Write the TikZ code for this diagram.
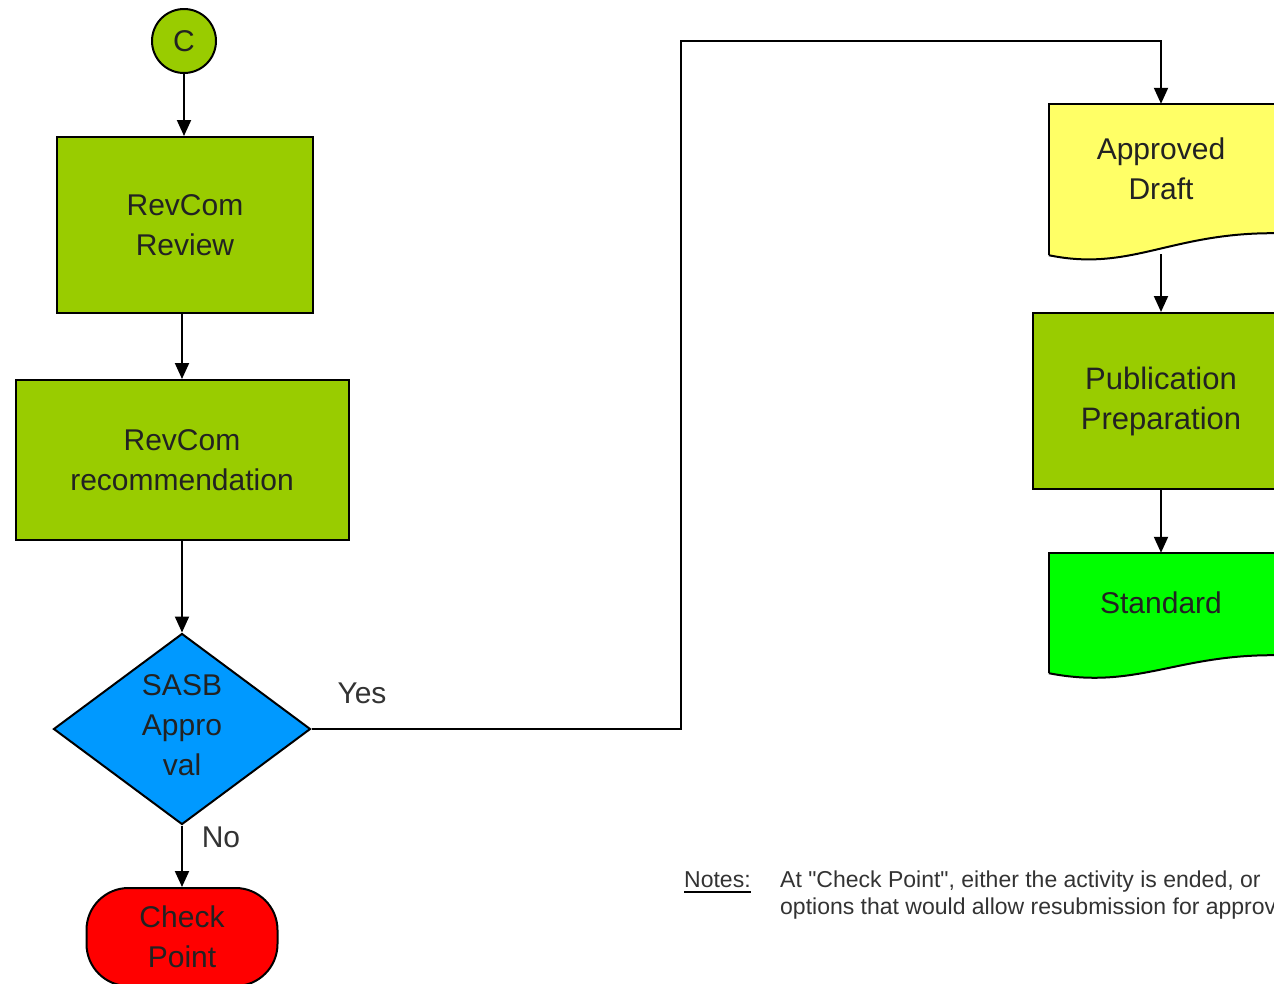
\documentclass[tikz,border=0pt]{standalone}
\usepackage{fontspec}
\setmainfont{Liberation Sans}[Ligatures=TeXOff]
\usetikzlibrary{arrows.meta,shapes.geometric}
\definecolor{procgreen}{HTML}{99CC00}
\definecolor{docyellow}{HTML}{FFFF66}
\definecolor{stdgreen}{HTML}{00FF00}
\definecolor{decblue}{HTML}{0099FF}
\definecolor{termred}{HTML}{FF0000}
\definecolor{txtdark}{HTML}{222222}
\definecolor{lblgray}{HTML}{333333}
\tikzset{
  boxtext/.style={font=\fontsize{30}{40}\selectfont, text=txtdark, align=center},
  procbox/.style={draw=black, line width=2pt, fill=procgreen, rectangle, inner sep=0pt, boxtext},
  docpath/.style={draw=black, line width=2pt},
  ghost/.style={draw=none, rectangle, inner sep=0pt},
  conn/.style={draw=black, line width=2pt, -{Triangle[width=14pt,length=16pt]}},
  lbl/.style={font=\fontsize{30}{40}\selectfont, text=lblgray, inner sep=0pt},
  notetext/.style={font=\fontsize{23}{27}\selectfont, text=lblgray, inner sep=0pt, align=left}
}
\begin{document}
\begin{tikzpicture}[x=1pt,y=-1pt]
\useasboundingbox (0,0) rectangle (1274,983);
\clip (0,0) rectangle (1274,983);
\fill[white] (0,0) rectangle (1274,983);

% connector C
\node[draw=black, line width=2pt, fill=procgreen, circle, minimum size=64pt, inner sep=0pt, boxtext] (c) at (184,41) {C};

% RevCom Review
\node[procbox, minimum width=256pt, minimum height=176pt] (rev) at (185,225) {RevCom\\Review};

% RevCom recommendation
\node[procbox, minimum width=333pt, minimum height=160pt] (rec) at (182,460) {RevCom\\recommendation};

% SASB Approval diamond
\node[diamond, draw=black, line width=2pt, fill=decblue, minimum width=257pt, minimum height=191pt, inner sep=0pt] (dia) at (182,729) {};
\node[boxtext, inner sep=0pt] (diatxt) at (182,725) {SASB\\Appro\\val};

% Check Point terminal
\node[draw=black, line width=2pt, fill=termred, rectangle, rounded corners=42pt, minimum width=191pt, minimum height=98pt, inner sep=0pt, boxtext] (chk) at (182,937) {Check\\Point};

% Approved Draft document
\node[ghost, minimum width=224pt, minimum height=151pt] (draft) at (1161,179.5) {};
\fill[docyellow] (draft.north west) -- ([xshift=4pt]draft.north east) -- ([xshift=4pt,yshift=22pt]draft.south east) -- ([yshift=22pt]draft.south east)
  .. controls (1170,233) and (1130,272) .. (draft.south west) -- cycle;
\draw[docpath] (draft.south west) -- (draft.north west) -- ([xshift=4pt]draft.north east);
\draw[docpath] ([xshift=4pt,yshift=22pt]draft.south east) -- ([yshift=22pt]draft.south east)
  .. controls (1170,233) and (1130,272) .. (draft.south west);
\node[boxtext, inner sep=0pt] (drafttxt) at (1161,169) {Approved\\Draft};

% Publication Preparation
\node[procbox, minimum width=256pt, minimum height=176pt, font=\fontsize{31}{40}\selectfont] (pub) at (1161,401) {Publication\\Preparation};

% Standard document
\node[ghost, minimum width=224pt, minimum height=120pt] (std) at (1161,613) {};
\fill[stdgreen] (std.north west) -- ([xshift=4pt]std.north east) -- ([xshift=4pt,yshift=18pt]std.south east) -- ([yshift=18pt]std.south east)
  .. controls (1175,655) and (1135,690) .. (std.south west) -- cycle;
\draw[docpath] (std.south west) -- (std.north west) -- ([xshift=4pt]std.north east);
\draw[docpath] ([xshift=4pt,yshift=18pt]std.south east) -- ([yshift=18pt]std.south east)
  .. controls (1175,655) and (1135,690) .. (std.south west);
\node[boxtext, inner sep=0pt] (stdtxt) at (1161,603) {Standard};

% connectors
\draw[conn] (c.south) -- (c.south |- rev.north);
\draw[conn] (rev.south -| rec.north) -- (rec.north);
\draw[conn] (rec.south) -- (dia.north);
\draw[conn] (dia.south) -- (chk.north);
\coordinate (yb) at (681,729);
\coordinate (yt) at (681,41);
\draw[conn, line join=miter] (dia.east) -- (yb) -- (yt) -| (draft.north);
\draw[conn] ([yshift=1pt]draft.south) -- (pub.north);
\draw[conn] (pub.south) -- (std.north);

% labels
\node[lbl] (yes) at (362,693) {Yes};
\node[lbl] (no) at (221,837) {No};

% notes
\node[notetext, anchor=base west] (notes) at (684,887) {Notes:};
\draw[line width=2pt, black] ([yshift=-5pt]notes.base west) -- ([yshift=-5pt]notes.base east);
\node[notetext, anchor=base west] (notebody) at (780,914) {At "Check Point", either the activity is ended, or\\options that would allow resubmission for approval};
\end{tikzpicture}
\end{document}
